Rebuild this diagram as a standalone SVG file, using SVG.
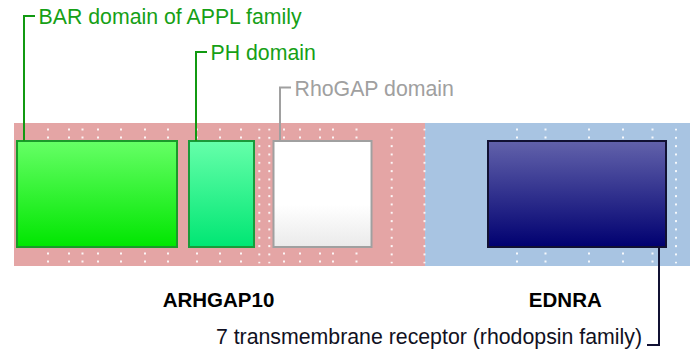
<svg xmlns="http://www.w3.org/2000/svg" width="690" height="351" viewBox="0 0 690 351">
<defs>
<linearGradient id="gBar" x1="0" y1="0" x2="0" y2="1"><stop offset="0" stop-color="#66ff66"/><stop offset="1" stop-color="#00e600"/></linearGradient>
<linearGradient id="gPh" x1="0" y1="0" x2="0" y2="1"><stop offset="0" stop-color="#66ffaa"/><stop offset="1" stop-color="#00e673"/></linearGradient>
<linearGradient id="gRho" x1="0" y1="0" x2="0" y2="1"><stop offset="0" stop-color="#ffffff"/><stop offset="0.6" stop-color="#ffffff"/><stop offset="1" stop-color="#eaeaea"/></linearGradient>
<linearGradient id="gEd" x1="0" y1="0" x2="0" y2="1"><stop offset="0" stop-color="#6262ab"/><stop offset="1" stop-color="#000070"/></linearGradient>
<pattern id="vdots" x="0" y="128.5" width="2" height="8.33" patternUnits="userSpaceOnUse"><rect width="2" height="2" fill="#ffffff"/></pattern>
</defs>
<style>
.lbl{font-family:"Liberation Sans",Arial,sans-serif;font-size:21.3px}
.bold{font-family:"Liberation Sans",Arial,sans-serif;font-size:20.5px;font-weight:bold;fill:#000}
.dom{stroke-width:2}
.co{fill:none;stroke-width:2}
</style>
<g id="background">
<rect x="14" y="123" width="411" height="143" fill="#e4a5a5"/>
<rect x="425" y="123" width="265" height="143" fill="#a8c4e2"/>
<path fill="#ffffff" opacity="0.9" d="M47 128.5h2v2h-2zM47 136.5h2v2h-2zM47 252.5h2v2h-2zM47 260.5h2v2h-2zM68 128.5h2v2h-2zM68 136.5h2v2h-2zM68 252.5h2v2h-2zM68 260.5h2v2h-2zM81.5 128.5h2v2h-2zM81.5 136.5h2v2h-2zM81.5 252.5h2v2h-2zM81.5 260.5h2v2h-2zM97 128.5h2v2h-2zM97 136.5h2v2h-2zM97 252.5h2v2h-2zM97 260.5h2v2h-2zM120 128.5h2v2h-2zM120 136.5h2v2h-2zM120 252.5h2v2h-2zM120 260.5h2v2h-2zM144 128.5h2v2h-2zM144 136.5h2v2h-2zM144 252.5h2v2h-2zM144 260.5h2v2h-2zM167 128.5h2v2h-2zM167 136.5h2v2h-2zM167 252.5h2v2h-2zM167 260.5h2v2h-2zM196 128.5h2v2h-2zM196 136.5h2v2h-2zM196 252.5h2v2h-2zM196 260.5h2v2h-2zM219 128.5h2v2h-2zM219 136.5h2v2h-2zM219 252.5h2v2h-2zM219 260.5h2v2h-2zM240 128.5h2v2h-2zM240 136.5h2v2h-2zM240 252.5h2v2h-2zM240 260.5h2v2h-2zM283 128.5h2v2h-2zM283 136.5h2v2h-2zM283 252.5h2v2h-2zM283 260.5h2v2h-2zM299 128.5h2v2h-2zM299 136.5h2v2h-2zM299 252.5h2v2h-2zM299 260.5h2v2h-2zM319 128.5h2v2h-2zM319 136.5h2v2h-2zM319 252.5h2v2h-2zM319 260.5h2v2h-2zM332 128.5h2v2h-2zM332 136.5h2v2h-2zM332 252.5h2v2h-2zM332 260.5h2v2h-2zM355.5 128.5h2v2h-2zM355.5 136.5h2v2h-2zM355.5 252.5h2v2h-2zM355.5 260.5h2v2h-2zM516 128.5h2v2h-2zM516 136.5h2v2h-2zM516 252.5h2v2h-2zM516 260.5h2v2h-2zM544.5 128.5h2v2h-2zM544.5 136.5h2v2h-2zM544.5 252.5h2v2h-2zM544.5 260.5h2v2h-2zM588 128.5h2v2h-2zM588 136.5h2v2h-2zM588 252.5h2v2h-2zM588 260.5h2v2h-2zM622 128.5h2v2h-2zM622 136.5h2v2h-2zM622 252.5h2v2h-2zM622 260.5h2v2h-2zM651.5 128.5h2v2h-2zM651.5 136.5h2v2h-2zM651.5 252.5h2v2h-2zM651.5 260.5h2v2h-2z"/>
<g opacity="0.9">
<rect x="258.3" y="128.5" width="2" height="135" fill="url(#vdots)"/>
<rect x="268.3" y="128.5" width="2" height="135" fill="url(#vdots)"/>
<rect x="390.7" y="128.5" width="2" height="135" fill="url(#vdots)"/>
<rect x="423.5" y="128.5" width="2" height="135" fill="url(#vdots)"/>
<rect x="675" y="128.5" width="2" height="135" fill="url(#vdots)"/>
</g>
</g>
<g id="bar-domain">
<rect class="dom" x="17" y="141" width="160" height="106" fill="url(#gBar)" stroke="#1a9a2a"/>
</g>
<g id="ph-domain">
<rect class="dom" x="189" y="141" width="65" height="106" fill="url(#gPh)" stroke="#1a9a3a"/>
</g>
<g id="rhogap-domain">
<rect class="dom" x="273.5" y="141" width="98" height="106" fill="url(#gRho)" stroke="#a0a0a0"/>
</g>
<g id="ednra-domain">
<rect class="dom" x="488" y="141" width="178" height="106" fill="url(#gEd)" stroke="#111133"/>
</g>
<g id="connectors">
<path class="co" stroke="#119911" d="M24 141V16H35"/>
<path class="co" stroke="#119911" d="M196 141V52H207"/>
<path class="co" stroke="#a0a0a0" d="M280 141V87.5H291"/>
<path class="co" stroke="#111133" d="M659 248V345H647"/>
</g>
<g id="labels">
<text class="lbl" x="38.5" y="24" fill="#16a016">BAR domain of APPL family</text>
<text class="lbl" x="210.5" y="60" fill="#16a016">PH domain</text>
<text class="lbl" x="294.5" y="95.5" fill="#a0a0a0">RhoGAP domain</text>
<text class="lbl" x="642" y="343.5" fill="#111122" text-anchor="end">7 transmembrane receptor (rhodopsin family)</text>
<text class="bold" x="218.5" y="307" text-anchor="middle">ARHGAP10</text>
<text class="bold" x="565.3" y="307" text-anchor="middle">EDNRA</text>
</g>
</svg>
